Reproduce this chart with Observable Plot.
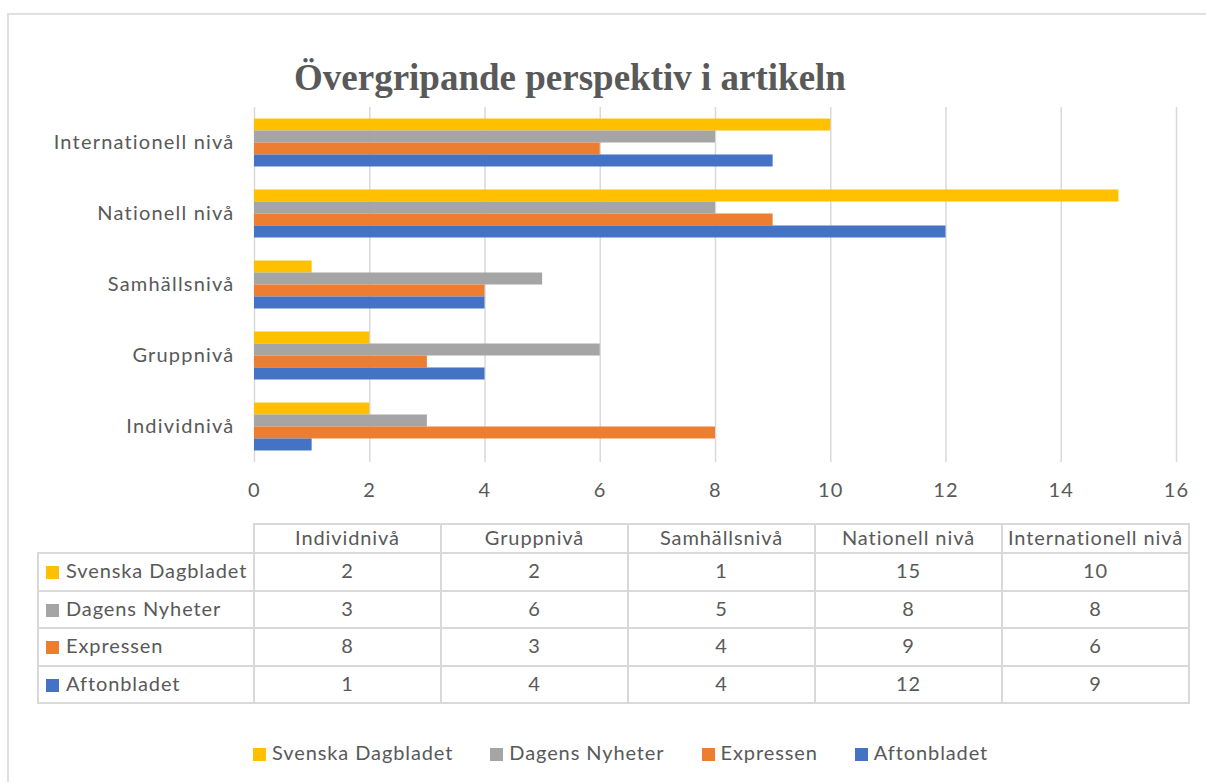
<!DOCTYPE html>
<html>
<head>
<meta charset="utf-8">
<script src="https://cdn.jsdelivr.net/npm/d3@7"></script>
<script src="https://cdn.jsdelivr.net/npm/@observablehq/plot@0.6"></script>
<style>
  html, body { margin: 0; padding: 0; background: #fff; }
  body { width: 1206px; height: 782px; position: relative; overflow: hidden; font-family: Lato, "Liberation Sans", sans-serif; color: #595959; }
  #frame { position: absolute; left: 7px; top: 13px; width: 1220px; height: 800px; border: 2px solid #e0e0e0; box-sizing: border-box; }
  #title { position: absolute; left: 0; width: 1140px; top: 59px; text-align: center; font-family: "Liberation Serif", serif; font-weight: bold; font-size: 37px; line-height: 37px; color: #595959; white-space: nowrap; }
  #chart { position: absolute; left: 0; top: 95px; }
  #chart svg text { letter-spacing: 1.2px; }
  #tbl { position: absolute; left: 37px; top: 523px; border-collapse: collapse; table-layout: fixed; font-size: 20px; letter-spacing: 0.9px; color: #595959; }
  #tbl td { border: 2px solid #d9d9d9; padding: 0 0 3px 0; text-align: center; white-space: nowrap; overflow: hidden; }
  #tbl td.blank { border-top: hidden; border-left: hidden; }
  #tbl td.lab { text-align: left; padding-left: 7px; }
  .sw { display: inline-block; width: 13px; height: 13px; margin-right: 7px; vertical-align: -1px; }
  #legend { position: absolute; left: 253px; top: 739px; display: flex; gap: 37px; font-size: 20px; letter-spacing: 0.9px; color: #595959; white-space: nowrap; line-height: 26px; }
  #legend .sw { margin-right: 6px; }
</style>
</head>
<body>
<div id="frame"></div>
<div id="title">Övergripande perspektiv i artikeln</div>
<div id="chart"></div>
<table id="tbl"></table>
<div id="legend"></div>
<script>
// ---- Data ----
const categories = ["Individnivå", "Gruppnivå", "Samhällsnivå", "Nationell nivå", "Internationell nivå"];
const series = ["Svenska Dagbladet", "Dagens Nyheter", "Expressen", "Aftonbladet"];
const svenskaDagbladet = [2, 2, 1, 15, 10];
const dagensNyheter = [3, 6, 5, 8, 8];
const expressen = [8, 3, 4, 9, 6];
const aftonbladet = [1, 4, 4, 12, 9];
const xTicks = [0, 2, 4, 6, 8, 10, 12, 14, 16];
const colors = ["#FFC000", "#A5A5A5", "#ED7D31", "#4472C4"];

const seriesValues = [svenskaDagbladet, dagensNyheter, expressen, aftonbladet];
const data = [];
series.forEach((s, i) => categories.forEach((c, j) => data.push({series: s, category: c, value: seriesValues[i][j]})));

const font = "Lato, 'Liberation Sans', sans-serif";
const chart = Plot.plot({
  width: 1206,
  height: 410,
  marginLeft: 254,
  marginRight: 30,
  marginTop: 12,
  marginBottom: 43,
  style: {fontFamily: font, fontSize: "20px", color: "#595959", background: "transparent"},
  x: {domain: [0, 16], label: null},
  fy: {domain: categories.slice().reverse(), padding: 0, round: false, label: null},
  y: {domain: series, paddingInner: 0, paddingOuter: 0.96, round: false, axis: null},
  color: {domain: series, range: colors},
  marks: [
    Plot.gridX(xTicks, {stroke: "#d9d9d9", strokeOpacity: 1, strokeWidth: 1.5}),
    Plot.barX(data, {x: "value", y: "series", fy: "category", fill: "series"}),
    Plot.axisX({ticks: xTicks, tickSize: 0, tickPadding: 20, label: null, fill: "#595959"}),
    Plot.axisFy({anchor: "left", tickSize: 0, tickPadding: 20, label: null, fill: "#595959"})
  ]
});
document.getElementById("chart").appendChild(chart);

// ---- Data table ----
const tbl = document.getElementById("tbl");
const colgroup = document.createElement("colgroup");
[216, 187, 187, 187, 187, 187].forEach(w => { const c = document.createElement("col"); c.style.width = w + "px"; colgroup.appendChild(c); });
tbl.appendChild(colgroup);
const hr = document.createElement("tr");
hr.style.height = "29px";
const blank = document.createElement("td"); blank.className = "blank"; hr.appendChild(blank);
categories.forEach(c => { const td = document.createElement("td"); td.textContent = c; hr.appendChild(td); });
tbl.appendChild(hr);
series.forEach((s, i) => {
  const tr = document.createElement("tr");
  tr.style.height = "37.5px";
  const lab = document.createElement("td"); lab.className = "lab";
  const sw = document.createElement("span"); sw.className = "sw"; sw.style.background = colors[i];
  lab.appendChild(sw); lab.appendChild(document.createTextNode(s));
  tr.appendChild(lab);
  seriesValues[i].forEach(v => { const td = document.createElement("td"); td.textContent = v; tr.appendChild(td); });
  tbl.appendChild(tr);
});

// ---- Legend ----
const legend = document.getElementById("legend");
series.forEach((s, i) => {
  const item = document.createElement("div");
  const sw = document.createElement("span"); sw.className = "sw"; sw.style.background = colors[i];
  item.appendChild(sw); item.appendChild(document.createTextNode(s));
  legend.appendChild(item);
});
</script>
</body>
</html>
